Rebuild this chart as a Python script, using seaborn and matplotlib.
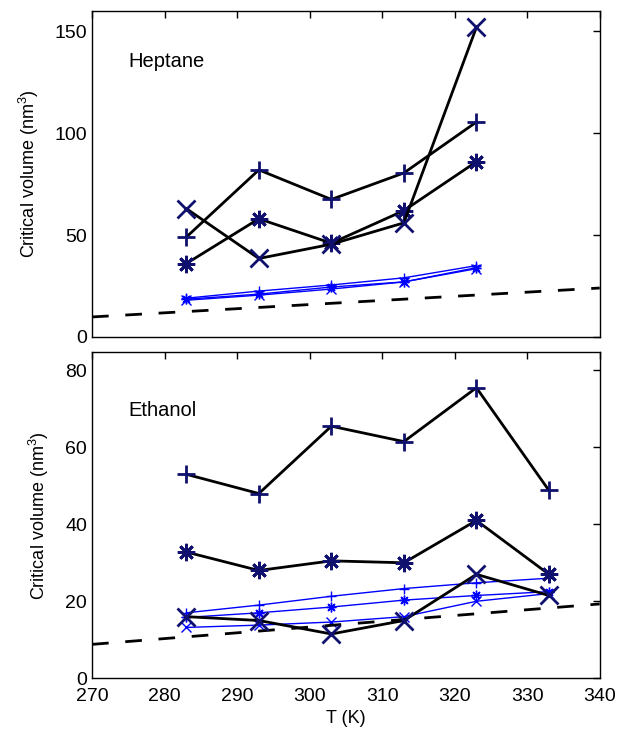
import matplotlib.pyplot as plt
import numpy as np
import seaborn as sns

# temperatures (K)
temps_hep = [283, 293, 303, 313, 323]
temps_eth = [283, 293, 303, 313, 323, 333]

# heptane, black lines (simulation)
hep_plus = [49, 82, 67.5, 80.5, 105.5]
hep_star = [36, 58, 46, 62, 86]
hep_cross = [63, 38.5, 45.5, 56, 152]
# heptane, blue lines
hep_plus_b = [19, 22.5, 25.5, 29, 35]
hep_star_b = [18.5, 21, 24.5, 27, 34]
hep_cross_b = [18, 20.5, 23.5, 27, 33.5]
# heptane dashed reference
dash_t = [270, 340]
hep_dash = [9.8, 24]

# ethanol, black lines
eth_plus = [53, 48, 65.5, 61.5, 75.5, 48.8]
eth_star = [32.8, 28, 30.5, 30, 41, 27]
eth_cross = [16, 15, 11.5, 15, 27, 21.5]
# ethanol, blue lines
eth_plus_b = [17, 19, 21.3, 23.3, 24.8, 26]
eth_star_b = [15.8, 17, 18.5, 20.3, 21.5, 22.5]
eth_cross_b = [13.2, 13.8, 14.6, 16, 20, 22]
eth_dash = [8.8, 19.3]

sns.set_style("white")
plt.rcParams['font.family'] = ['Liberation Sans', 'DejaVu Sans']
plt.rcParams['mathtext.fontset'] = 'custom'
plt.rcParams['mathtext.rm'] = 'Liberation Sans'
plt.rcParams['text.color'] = 'black'
plt.rcParams['axes.labelcolor'] = 'black'
plt.rcParams['xtick.color'] = 'black'
plt.rcParams['ytick.color'] = 'black'

AST = (8, 2, 0)
NAVY = "#10106e"

fig = plt.figure(figsize=(6.26, 7.34), dpi=100)
ax1 = fig.add_axes([0.147, 0.541, 0.811, 0.444])
ax2 = fig.add_axes([0.147, 0.076, 0.811, 0.444])


def black_series(ax, x, y, m):
    sns.lineplot(x=x, y=y, ax=ax, color="black", lw=2, marker=m, markersize=12.5,
                 markeredgecolor=NAVY, markerfacecolor=NAVY, markeredgewidth=2,
                 sort=False, legend=False)


def blue_series(ax, x, y, m):
    sns.lineplot(x=x, y=y, ax=ax, color="#0000ff", lw=1, marker=m, markersize=7,
                 markeredgecolor="#0000ff", markeredgewidth=1,
                 sort=False, legend=False)


for ax, t, bl, bu, dash in [
    (ax1, temps_hep, [hep_plus, hep_star, hep_cross], [hep_plus_b, hep_star_b, hep_cross_b], hep_dash),
    (ax2, temps_eth, [eth_plus, eth_star, eth_cross], [eth_plus_b, eth_star_b, eth_cross_b], eth_dash),
]:
    for y, m in zip(bu, ["+", AST, "x"]):
        blue_series(ax, t, y, m)
    sns.lineplot(x=dash_t, y=dash, ax=ax, color="black", lw=2,
                 dashes=False, legend=False).lines[-1].set_dashes((6, 6))
    for y, m in zip(bl, ["+", AST, "x"]):
        black_series(ax, t, y, m)
    ax.set_xlim(270, 340)
    ax.set_xticks(np.arange(270, 341, 10))
    ax.tick_params(direction="in", top=True, right=True, labelsize=14,
                   length=5, width=1)
    ax.tick_params(axis="x", pad=7)
    for s in ax.spines.values():
        s.set_color("black")
        s.set_linewidth(1)
    ax.set_ylabel("Critical volume (nm$^{3}$)", fontsize=13, labelpad=10)

ax1.set_ylim(0, 160)
ax1.set_yticks([0, 50, 100, 150])
ax1.set_xticklabels([])
ax1.text(275, 135, "Heptane", fontsize=14.5, va="center")

ax2.set_ylim(0, 84.7)
ax2.set_yticks([0, 20, 40, 60, 80])
ax2.set_xlabel("T (K)", fontsize=13, labelpad=4)
ax2.text(275, 69.6, "Ethanol", fontsize=14.5, va="center")

fig.savefig("out.png", dpi=100)
